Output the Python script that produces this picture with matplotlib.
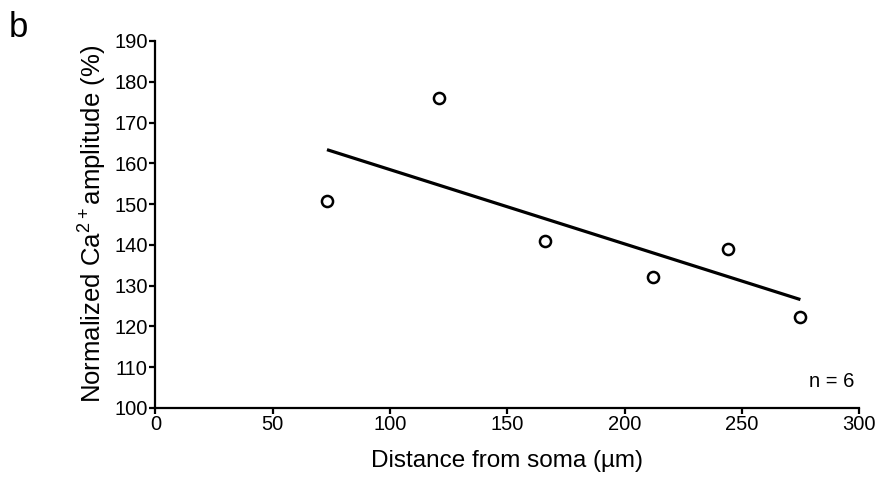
import numpy as np
import matplotlib
matplotlib.use("Agg")
import matplotlib.pyplot as plt


# values
distance_um = [73.1, 120.8, 166.0, 211.9, 243.9, 274.9]
amplitude_pct = [150.7, 176.1, 141.0, 132.1, 138.9, 122.4]
n_cells = 6

x_ticks = [0, 50, 100, 150, 200, 250, 300]
y_ticks = [100, 110, 120, 130, 140, 150, 160, 170, 180, 190]


def main():
    plt.rcParams["font.family"] = ["Liberation Sans", "DejaVu Sans"]
    plt.rcParams["mathtext.default"] = "regular"

    fig = plt.figure(figsize=(8.77, 4.84), dpi=100)
    ax = fig.add_axes([0.1773, 0.1574, 0.8025, 0.7579])

    # linear fit over the measured range
    slope, intercept = np.polyfit(distance_um, amplitude_pct, 1)
    fit_x = np.array([min(distance_um), max(distance_um)])
    ax.plot(fit_x, slope * fit_x + intercept, color="black", lw=2.3,
            solid_capstyle="butt", zorder=2)

    ax.plot(distance_um, amplitude_pct, "o", ms=8, mfc="white", mec="black",
            mew=1.8, zorder=3)

    ax.set_xlim(0, 300)
    ax.set_ylim(100, 190)
    ax.set_xticks(x_ticks)
    ax.set_yticks(y_ticks)

    for side in ["top", "right"]:
        ax.spines[side].set_visible(False)
    for side in ["left", "bottom"]:
        ax.spines[side].set_linewidth(1.6)

    ax.tick_params(direction="out", length=4, width=1.6, labelsize=14.5, pad=1.5)

    ax.set_xlabel("Distance from soma (µm)", fontsize=17.5, labelpad=11)
    ax.set_ylabel("Normalized Ca$^{2+}$amplitude (%)", fontsize=18.5, labelpad=4)

    ax.text(0.993, 0.045, f"n = {n_cells}", transform=ax.transAxes,
            ha="right", va="bottom", fontsize=14.5)

    fig.text(0.010, 0.924, "b", fontsize=25, ha="left", va="baseline")

    fig.savefig("out.png", dpi=100)
    plt.close(fig)


if __name__ == "__main__":
    main()
